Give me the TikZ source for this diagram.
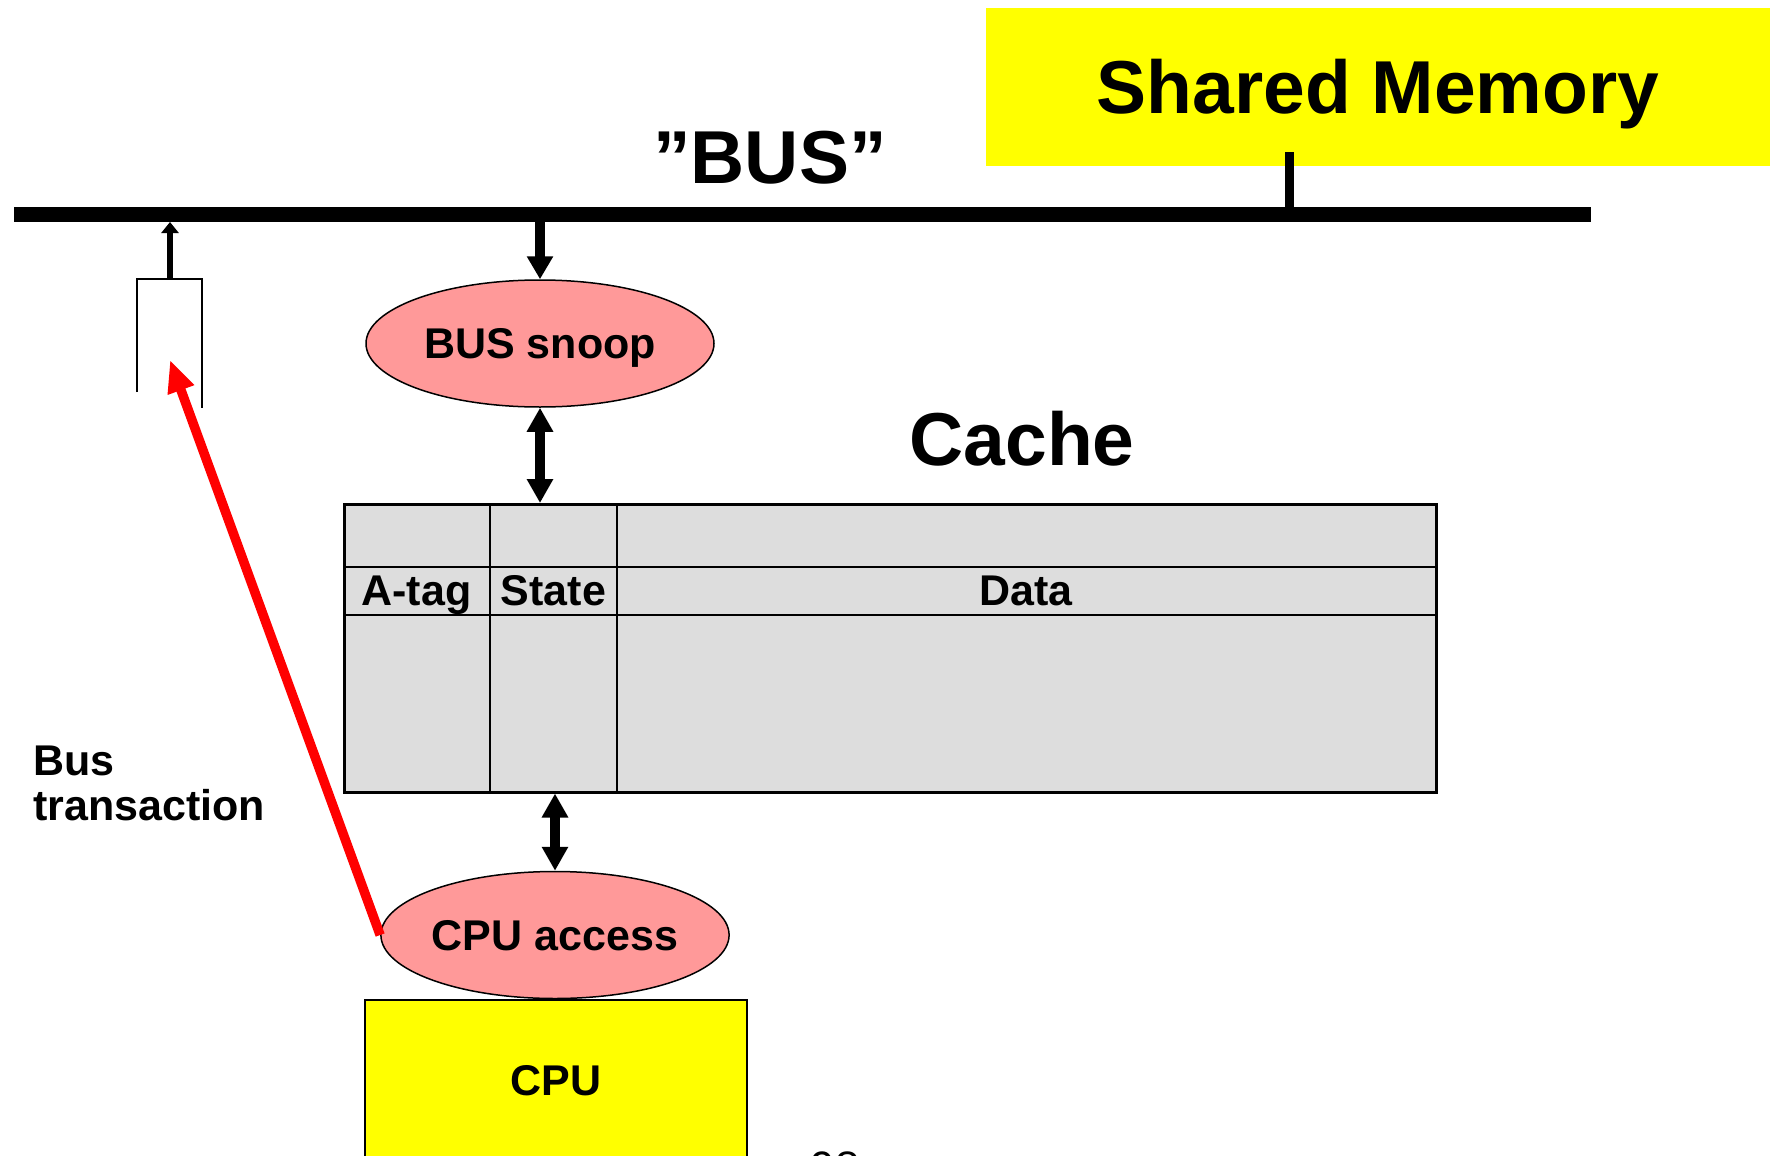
\documentclass[tikz,border=0pt]{standalone}
\usepackage{fontspec}
\setmainfont{Liberation Sans}
\usetikzlibrary{arrows.meta,shapes.geometric}
\definecolor{pinkfill}{HTML}{FF9999}
\definecolor{memyellow}{HTML}{FFFF00}
\definecolor{cachegrey}{HTML}{DDDDDD}
\definecolor{redarrow}{HTML}{FF0000}
\begin{document}
\begin{tikzpicture}[x=1pt,y=-1pt,
  bigtxt/.style={font=\fontsize{75}{80}\selectfont\bfseries, inner sep=0, anchor=base},
  lbl/.style={font=\fontsize{43}{47}\selectfont\bfseries, inner sep=0},
  ell/.style={ellipse, draw=black, line width=1.5, fill=pinkfill, minimum width=348, minimum height=127,
    inner sep=0, text height=30, text depth=0, font=\fontsize{43}{47}\selectfont\bfseries},
  dblarrow/.style={line width=10, {Triangle[width=25pt,length=24pt]}-{Triangle[width=25pt,length=24pt]}},
  thinline/.style={line width=2}
]
\useasboundingbox (0,0) rectangle (1775,1156);

% Shared memory
\node[fill=memyellow, minimum width=784, minimum height=158, anchor=north west, inner sep=0] (mem) at (986,8) {};
\node[bigtxt] (memtxt) at (1378,113) {Shared Memory};

% bus
\coordinate (busL) at (14,214.5);
\coordinate (busR) at (1591,214.5);
\coordinate (busbot) at (0,222);
\draw[line width=15] (busL) -- (busR);
\draw[line width=9] (1289,152) -- (1289,208);
\node[bigtxt] (bustxt) at (770,183) {”BUS”};

% bus transaction buffer
\draw[thinline] (137,392) -- (137,279) -- (202,279) -- (202,408);
\coordinate (brktop) at (170,279);
\coordinate (brkin) at (170,360);
\draw[line width=6, -{Triangle[width=17pt,length=11pt]}] (brktop) -- (brktop |- busbot);

% bus snoop
\node[ell] (snoop) at (540,343.5) {BUS snoop};
\draw[line width=10, -{Triangle[width=25pt,length=23pt]}] (snoop.north |- busbot) -- (snoop.north);

% cache
\node[bigtxt] (cachetxt) at (1022,465) {Cache};
\node[draw=black, line width=2.5, fill=cachegrey, minimum width=1092, minimum height=288, anchor=north west, inner sep=0] (cache) at (343,503) {};
\draw[thinline] (343,567) -- (1435,567);
\draw[thinline] (343,615) -- (1435,615);
\draw[thinline] (490,503) -- (490,791);
\draw[thinline] (617,503) -- (617,791);
\node[lbl, anchor=base] (atag) at (416.5,605) {A-tag};
\node[lbl, anchor=base] (state) at (553.5,605) {State};
\node[lbl, anchor=base] (data) at (1026,605) {Data};

\draw[dblarrow] (snoop.south) -- (snoop.south |- cache.north);

% CPU access
\node[ell] (cpuacc) at (555,935) {CPU access};
\draw[dblarrow] (cpuacc.north |- cache.south) -- (cpuacc.north);

% CPU
\node[draw=black, line width=2, fill=memyellow, minimum width=382, minimum height=160, anchor=north west,
  inner sep=0, text height=30, text depth=0, font=\fontsize{43}{47}\selectfont\bfseries] (cpu) at (364,999) {CPU};

% red arrow
\draw[redarrow, line width=9.5, -{Triangle[width=26pt,length=32pt]}] (cpuacc.west) -- (brkin);

% bus transaction label
\node[lbl, anchor=base west] (bt1) at (33,775) {Bus};
\node[lbl, anchor=base west] (bt2) at (33,820) {transaction};

% page number (cut off at the lower edge, as in the original)
\node[font=\fontsize{44}{48}\selectfont, inner sep=0, anchor=base] (pgno) at (835,1182) {98};
\end{tikzpicture}
\end{document}
